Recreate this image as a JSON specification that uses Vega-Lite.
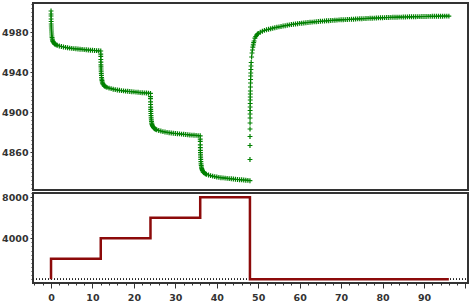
{
  "$schema": "https://vega.github.io/schema/vega-lite/v6.json",
  "autosize": {"type": "pad"},
  "padding": {"left": 0, "top": 2, "right": 5, "bottom": 3},
  "background": "white",
  "bounds": "flush",
  "spacing": 3,
  "datasets": {
    "p": [
      {"t":0,"v":5001},{"t":0.005,"v":4998},{"t":0.01,"v":4996},{"t":0.02,"v":4993},{"t":0.03,"v":4990.5},{"t":0.045,"v":4988},{"t":0.06,"v":4986},{"t":0.08,"v":4984},{"t":0.1,"v":4982},{"t":0.13,"v":4980},{"t":0.16,"v":4978},{"t":0.2,"v":4976},{"t":0.25,"v":4974.5},{"t":0.3,"v":4973},{"t":0.37,"v":4971.8},{"t":0.45,"v":4970.7},{"t":0.55,"v":4969.8},{"t":0.7,"v":4968.9},{"t":0.85,"v":4968.2},{"t":1,"v":4967.7},{"t":1.25,"v":4967.1},{"t":1.5,"v":4966.7},{"t":2,"v":4966},{"t":2.5,"v":4965.5},{"t":3,"v":4965},{"t":3.5,"v":4964.6},{"t":4,"v":4964.2},{"t":4.5,"v":4963.9},{"t":5,"v":4963.6},{"t":5.5,"v":4963.4},{"t":6,"v":4963.2},{"t":6.5,"v":4963},{"t":7,"v":4962.8},{"t":7.5,"v":4962.6},{"t":8,"v":4962.4},{"t":8.5,"v":4962.2},{"t":9,"v":4962},{"t":9.5,"v":4961.8},{"t":10,"v":4961.7},{"t":10.5,"v":4961.5},{"t":11,"v":4961.4},{"t":11.5,"v":4961.2},
      {"t":12,"v":4961},{"t":12.005,"v":4957.8},{"t":12.01,"v":4955.7},{"t":12.02,"v":4952.5},{"t":12.03,"v":4949.9},{"t":12.045,"v":4947.2},{"t":12.06,"v":4945.1},{"t":12.08,"v":4943},{"t":12.1,"v":4940.9},{"t":12.13,"v":4938.7},{"t":12.16,"v":4936.6},{"t":12.2,"v":4934.5},{"t":12.25,"v":4932.9},{"t":12.3,"v":4931.3},{"t":12.37,"v":4930},{"t":12.45,"v":4928.9},{"t":12.55,"v":4927.9},{"t":12.7,"v":4927},{"t":12.85,"v":4926.2},{"t":13,"v":4925.7},{"t":13.25,"v":4925.1},{"t":13.5,"v":4924.6},{"t":14,"v":4923.9},{"t":14.5,"v":4923.4},{"t":15,"v":4922.8},{"t":15.5,"v":4922.4},{"t":16,"v":4922},{"t":16.5,"v":4921.7},{"t":17,"v":4921.4},{"t":17.5,"v":4921.1},{"t":18,"v":4920.9},{"t":18.5,"v":4920.7},{"t":19,"v":4920.5},{"t":19.5,"v":4920.3},{"t":20,"v":4920.1},{"t":20.5,"v":4919.9},{"t":21,"v":4919.7},{"t":21.5,"v":4919.4},{"t":22,"v":4919.3},{"t":22.5,"v":4919.1},{"t":23,"v":4919},{"t":23.5,"v":4918.8},
      {"t":24,"v":4918.6},{"t":24.005,"v":4915.4},{"t":24.01,"v":4913.3},{"t":24.02,"v":4910.1},{"t":24.03,"v":4907.5},{"t":24.045,"v":4904.8},{"t":24.06,"v":4902.7},{"t":24.08,"v":4900.6},{"t":24.1,"v":4898.5},{"t":24.13,"v":4896.3},{"t":24.16,"v":4894.2},{"t":24.2,"v":4892.1},{"t":24.25,"v":4890.5},{"t":24.3,"v":4888.9},{"t":24.37,"v":4887.6},{"t":24.45,"v":4886.5},{"t":24.55,"v":4885.5},{"t":24.7,"v":4884.6},{"t":24.85,"v":4883.8},{"t":25,"v":4883.3},{"t":25.25,"v":4882.7},{"t":25.5,"v":4882.2},{"t":26,"v":4881.5},{"t":26.5,"v":4881},{"t":27,"v":4880.4},{"t":27.5,"v":4880},{"t":28,"v":4879.6},{"t":28.5,"v":4879.3},{"t":29,"v":4879},{"t":29.5,"v":4878.7},{"t":30,"v":4878.5},{"t":30.5,"v":4878.3},{"t":31,"v":4878.1},{"t":31.5,"v":4877.9},{"t":32,"v":4877.7},{"t":32.5,"v":4877.5},{"t":33,"v":4877.3},{"t":33.5,"v":4877},{"t":34,"v":4876.9},{"t":34.5,"v":4876.7},{"t":35,"v":4876.6},{"t":35.5,"v":4876.4},
      {"t":36,"v":4876.2},{"t":36.005,"v":4872.8},{"t":36.01,"v":4870.6},{"t":36.02,"v":4867.2},{"t":36.03,"v":4864.4},{"t":36.045,"v":4861.6},{"t":36.06,"v":4859.4},{"t":36.08,"v":4857.2},{"t":36.1,"v":4854.9},{"t":36.13,"v":4852.7},{"t":36.16,"v":4850.4},{"t":36.2,"v":4848.2},{"t":36.25,"v":4846.5},{"t":36.3,"v":4844.8},{"t":36.37,"v":4843.5},{"t":36.45,"v":4842.3},{"t":36.55,"v":4841.3},{"t":36.7,"v":4840.2},{"t":36.85,"v":4839.5},{"t":37,"v":4838.9},{"t":37.25,"v":4838.2},{"t":37.5,"v":4837.8},{"t":38,"v":4837},{"t":38.5,"v":4836.4},{"t":39,"v":4835.9},{"t":39.5,"v":4835.4},{"t":40,"v":4835},{"t":40.5,"v":4834.6},{"t":41,"v":4834.3},{"t":41.5,"v":4834.1},{"t":42,"v":4833.9},{"t":42.5,"v":4833.6},{"t":43,"v":4833.4},{"t":43.5,"v":4833.2},{"t":44,"v":4833},{"t":44.5,"v":4832.7},{"t":45,"v":4832.5},{"t":45.5,"v":4832.3},{"t":46,"v":4832.2},{"t":46.5,"v":4832},{"t":47,"v":4831.8},{"t":47.5,"v":4831.6},
      {"t":48,"v":4831.3},{"t":48.005,"v":4852.5},{"t":48.01,"v":4866.5},{"t":48.015,"v":4875.5},{"t":48.02,"v":4883},{"t":48.025,"v":4889},{"t":48.03,"v":4894},{"t":48.035,"v":4898},{"t":48.04,"v":4901.5},{"t":48.05,"v":4905},{"t":48.06,"v":4908.5},{"t":48.07,"v":4912},{"t":48.08,"v":4915},{"t":48.09,"v":4918},{"t":48.1,"v":4921},{"t":48.12,"v":4925},{"t":48.14,"v":4929},{"t":48.16,"v":4932.5},{"t":48.18,"v":4936},{"t":48.2,"v":4939},{"t":48.23,"v":4942.5},{"t":48.26,"v":4946},{"t":48.3,"v":4949.5},{"t":48.4,"v":4955},{"t":48.5,"v":4959},{"t":48.6,"v":4962},{"t":48.7,"v":4964.8},{"t":48.8,"v":4967.2},{"t":48.9,"v":4969.3},{"t":49,"v":4971},{"t":49.2,"v":4973.8},{"t":49.4,"v":4975.5},{"t":49.6,"v":4976.8},{"t":49.8,"v":4977.8},{"t":50,"v":4978.5},{"t":50.5,"v":4979.8},{"t":51,"v":4980.8},{"t":51.5,"v":4981.6},{"t":52,"v":4982.2},
      {"t":52.5,"v":4982.7},{"t":53,"v":4983.2},{"t":53.5,"v":4983.8},{"t":54,"v":4984.3},{"t":54.5,"v":4984.7},{"t":55,"v":4985.1},{"t":55.5,"v":4985.5},{"t":56,"v":4986},{"t":56.5,"v":4986.3},{"t":57,"v":4986.7},{"t":57.5,"v":4987.1},{"t":58,"v":4987.5},{"t":58.5,"v":4987.8},{"t":59,"v":4988},{"t":59.5,"v":4988.3},{"t":60,"v":4988.6},{"t":60.5,"v":4988.8},{"t":61,"v":4989},{"t":61.5,"v":4989.3},{"t":62,"v":4989.5},{"t":62.5,"v":4989.7},{"t":63,"v":4989.9},{"t":63.5,"v":4990.1},{"t":64,"v":4990.3},{"t":64.5,"v":4990.5},{"t":65,"v":4990.7},{"t":65.5,"v":4990.9},{"t":66,"v":4991},{"t":66.5,"v":4991.2},{"t":67,"v":4991.3},{"t":67.5,"v":4991.5},{"t":68,"v":4991.6},{"t":68.5,"v":4991.8},{"t":69,"v":4991.9},{"t":69.5,"v":4992.1},{"t":70,"v":4992.2},{"t":70.5,"v":4992.3},{"t":71,"v":4992.4},{"t":71.5,"v":4992.5},{"t":72,"v":4992.6},{"t":72.5,"v":4992.7},{"t":73,"v":4992.8},{"t":73.5,"v":4993},{"t":74,"v":4993.1},{"t":74.5,"v":4993.2},{"t":75,"v":4993.3},{"t":75.5,"v":4993.4},{"t":76,"v":4993.5},{"t":76.5,"v":4993.6},{"t":77,"v":4993.7},{"t":77.5,"v":4993.8},{"t":78,"v":4993.9},{"t":78.5,"v":4994},{"t":79,"v":4994.1},{"t":79.5,"v":4994.2},{"t":80,"v":4994.3},{"t":80.5,"v":4994.4},{"t":81,"v":4994.5},{"t":81.5,"v":4994.5},{"t":82,"v":4994.6},{"t":82.5,"v":4994.7},{"t":83,"v":4994.7},{"t":83.5,"v":4994.8},{"t":84,"v":4994.9},{"t":84.5,"v":4994.9},{"t":85,"v":4995},{"t":85.5,"v":4995},{"t":86,"v":4995.1},{"t":86.5,"v":4995.2},{"t":87,"v":4995.2},{"t":87.5,"v":4995.3},{"t":88,"v":4995.3},{"t":88.5,"v":4995.4},{"t":89,"v":4995.4},{"t":89.5,"v":4995.5},{"t":90,"v":4995.5},{"t":90.5,"v":4995.5},{"t":91,"v":4995.6},{"t":91.5,"v":4995.6},{"t":92,"v":4995.7},{"t":92.5,"v":4995.7},{"t":93,"v":4995.7},{"t":93.5,"v":4995.8},{"t":94,"v":4995.8},{"t":94.5,"v":4995.8},{"t":95,"v":4995.9},{"t":95.5,"v":4995.9},{"t":96,"v":4995.9}
    ],
    "u": [
      {"i":0,"t":0,"w":0},{"i":1,"t":0,"w":2000},{"i":2,"t":12,"w":4000},{"i":3,"t":24,"w":6000},{"i":4,"t":36,"w":8000},{"i":5,"t":48,"w":0},{"i":6,"t":96,"w":0}
    ]
  },
  "vconcat": [
    {
      "width": 435,
      "height": 187,
      "data": {"name": "p"},
      "mark": {"type": "point", "shape": "M-1,0H1M0,-1V1", "filled": false, "stroke": "#008000", "strokeWidth": 1.2, "size": 24, "opacity": 1},
      "encoding": {
        "x": {"field": "t", "type": "quantitative", "scale": {"domain": [-4.35, 100.62], "nice": false, "zero": false}, "axis": null},
        "y": {
          "field": "v", "type": "quantitative",
          "scale": {"domain": [4822, 5009], "nice": false, "zero": false},
          "axis": {
            "title": null,
            "values": [4824,4828,4832,4836,4840,4844,4848,4852,4856,4860,4864,4868,4872,4876,4880,4884,4888,4892,4896,4900,4904,4908,4912,4916,4920,4924,4928,4932,4936,4940,4944,4948,4952,4956,4960,4964,4968,4972,4976,4980,4984,4988,4992,4996,5000,5004,5008],
            "format": "d",
            "labelExpr": "datum.value % 40 == 20 ? datum.label : ''",
            "labelFontSize": {"condition": {"test": "datum.value % 40 == 20", "value": 9.5}, "value": 0},
            "labelOverlap": false,
            "tickSize": {"condition": {"test": "datum.value % 40 == 20", "value": 3}, "value": 2}
          }
        }
      }
    },
    {
      "width": 435,
      "height": 90,
      "data": {"name": "u"},
      "encoding": {
        "x": {
          "field": "t", "type": "quantitative",
          "scale": {"domain": [-4.35, 100.62], "nice": false, "zero": false},
          "axis": {
            "title": null,
            "values": [-4,-2,0,2,4,6,8,10,12,14,16,18,20,22,24,26,28,30,32,34,36,38,40,42,44,46,48,50,52,54,56,58,60,62,64,66,68,70,72,74,76,78,80,82,84,86,88,90,92,94,96,98,100],
            "labelExpr": "datum.value >= 0 && datum.value <= 90 && datum.value % 10 == 0 ? datum.label : ''",
            "labelOverlap": false,
            "tickSize": {"condition": {"test": "datum.value % 10 == 0", "value": 5}, "value": 2},
            "labelPadding": 4
          }
        },
        "y": {
          "field": "w", "type": "quantitative",
          "scale": {"domain": [-365, 8420], "nice": false, "zero": false},
          "axis": {
            "title": null,
            "values": [0,400,800,1200,1600,2000,2400,2800,3200,3600,4000,4400,4800,5200,5600,6000,6400,6800,7200,7600,8000,8400],
            "format": "d",
            "labelExpr": "datum.value == 4000 || datum.value == 8000 ? datum.label : ''",
            "labelFontSize": {"condition": {"test": "datum.value == 4000 || datum.value == 8000", "value": 9.5}, "value": 0},
            "labelOverlap": false,
            "tickSize": {"condition": {"test": "datum.value == 4000 || datum.value == 8000", "value": 3}, "value": 2}
          }
        }
      },
      "layer": [
        {
          "mark": {"type": "rule", "color": "#222", "strokeWidth": 1, "strokeDash": [1, 2]},
          "encoding": {"y": {"datum": 0, "type": "quantitative"}, "x": {"value": 0}, "x2": {"value": 435}}
        },
        {
          "mark": {"type": "line", "interpolate": "step-after", "color": "#8c0a0a", "strokeWidth": 2.5},
          "encoding": {
            "order": {"field": "i", "type": "quantitative"}
          }
        }
      ]
    }
  ],
  "config": {
    "view": {"stroke": "#333", "strokeWidth": 2},
    "axis": {
      "domain": false,
      "grid": false,
      "labelFont": "DejaVu Sans",
      "labelFontWeight": "bold",
      "labelFontSize": 9.5,
      "labelColor": "#333",
      "labelPadding": 2,
      "tickColor": "#333",
      "tickWidth": 1
    }
  }
}
